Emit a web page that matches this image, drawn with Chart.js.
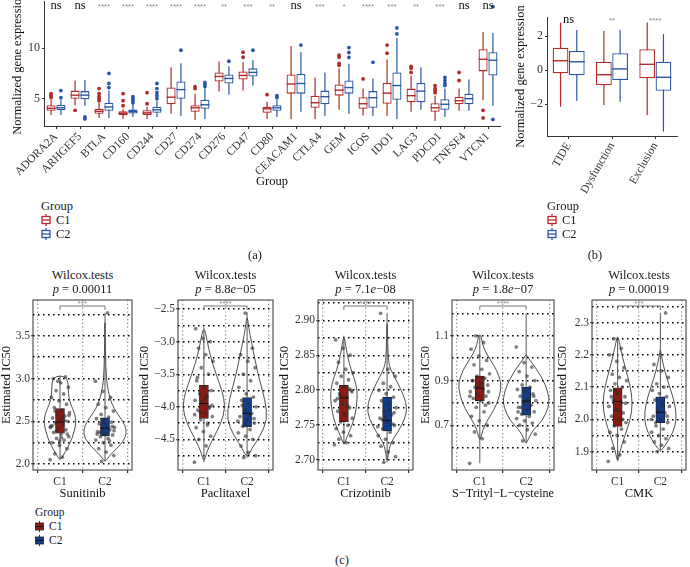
<!DOCTYPE html>
<html>
<head>
<meta charset="utf-8">
<script src="https://cdn.jsdelivr.net/npm/chart.js@4.4.0/dist/chart.umd.min.js"></script>
<style>
  body { margin: 0; width: 690px; height: 567px; position: relative; overflow: hidden; background: #fff;
         font-family: "Liberation Serif", "DejaVu Serif", serif; color: #1a1a1a; }
  canvas { position: absolute; }
  .t { position: absolute; white-space: nowrap; font-size: 12.5px; line-height: 14px; }
  .c { transform: translate(-50%, -50%); }
  .lg { position: absolute; font-size: 12.5px; line-height: 14px; }
  .row { display: flex; align-items: center; height: 14px; }
  .row svg { margin-right: 5px; }
</style>
</head>
<body>
<canvas id="chartA" width="505" height="200" style="left:0;top:-8px"></canvas>
<canvas id="chartB" width="180" height="192" style="left:510px;top:5px"></canvas>
<div id="drugs"></div>

<div class="t c" style="left:255px;top:255px">(a)</div>
<div class="t c" style="left:595px;top:255px">(b)</div>
<div class="t c" style="left:342px;top:560px">(c)</div>

<div id="legendA" class="lg" style="left:41px;top:199px"></div>
<div id="legendB" class="lg" style="left:547px;top:199px"></div>
<div id="legendC" class="lg" style="left:35px;top:506px;font-size:11.5px;line-height:13px"></div>

<script>
const SERIF = '"Liberation Serif", "DejaVu Serif", serif';
const SANS = '"Liberation Sans", "DejaVu Sans", sans-serif';
const C1_COL = '#b22a2a';
const C2_COL = '#2b56a6';
const C1_FILL = '#8b1b12';
const C2_FILL = '#123c8c';
const groupNames = ['C1', 'C2'];

// ---------- panel (a): immune checkpoint genes ----------
const genes = ['ADORA2A', 'ARHGEF5', 'BTLA', 'CD160', 'CD244', 'CD27', 'CD274', 'CD276', 'CD47', 'CD80',
  'CEACAM1', 'CTLA4', 'GEM', 'ICOS', 'IDO1', 'LAG3', 'PDCD1', 'TNFSF4', 'VTCN1'];
const geneSig = ['ns', 'ns', '****', '****', '****', '****', '****', '**', '***', '**',
  'ns', '***', '*', '****', '***', '**', '***', 'ns', 'ns'];
const c1Min = [3.4, 4.35, 3.1, 3.0, 3.0, 3.5, 2.9, 5.7, 5.8, 3.0, 3.0, 3.0, 3.9, 3.35, 3.3, 3.7, 2.8, 3.8, 4.85];
const c1Q1 = [3.8, 5.0, 3.5, 3.36, 3.4, 4.45, 3.7, 6.7, 6.9, 3.6, 5.5, 4.1, 5.3, 4.0, 4.5, 4.65, 3.7, 4.45, 7.7];
const c1Med = [4.05, 5.35, 3.75, 3.55, 3.6, 5.15, 4.1, 7.2, 7.3, 4.0, 6.45, 4.6, 5.85, 4.5, 5.55, 5.3, 4.1, 4.8, 8.9];
const c1Q3 = [4.35, 5.8, 4.0, 3.75, 3.85, 6.1, 4.35, 7.6, 7.7, 4.2, 7.4, 5.3, 6.4, 5.15, 6.55, 6.0, 4.55, 5.2, 9.9];
const c1Max = [4.9, 6.8, 4.6, 4.0, 4.2, 8.1, 5.5, 8.7, 8.6, 4.7, 10.2, 7.1, 8.0, 6.0, 8.9, 7.3, 5.3, 6.0, 11.6];
const c1Out = [[5.1, 5.3, 5.5], [3.85], [4.8, 5.0, 5.2, 5.5, 6.0], [4.3, 4.8, 5.5], [4.5, 5.6], [], [6.0, 6.2], [],
  [9.1, 9.6], [5.4], [], [], [8.3, 8.5, 9.1, 9.3], [6.95], [9.5, 10.3], [7.6, 8.0, 8.2], [5.6, 5.8, 6.0, 6.3],
  [6.8, 7.6], [3.85, 3.1]];
const c2Min = [3.4, 4.3, 3.1, 3.2, 3.2, 3.3, 3.0, 5.4, 6.3, 3.2, 3.7, 3.3, 3.5, 3.3, 3.0, 3.9, 3.2, 3.8, 4.3];
const c2Q1 = [3.85, 4.95, 3.8, 3.53, 3.6, 5.0, 4.0, 6.5, 7.2, 3.8, 5.5, 4.45, 5.5, 4.1, 4.9, 4.65, 3.9, 4.45, 7.3];
const c2Med = [4.1, 5.35, 4.18, 3.72, 3.9, 5.9, 4.4, 7.0, 7.6, 4.1, 6.5, 5.2, 6.1, 5.1, 6.3, 5.75, 4.45, 5.0, 8.8];
const c2Q3 = [4.4, 5.75, 4.6, 3.92, 4.2, 6.7, 4.9, 7.4, 8.0, 4.35, 7.45, 5.8, 6.8, 5.75, 7.6, 6.55, 4.95, 5.5, 9.6];
const c2Max = [4.9, 6.85, 5.8, 4.5, 4.8, 8.5, 6.0, 8.2, 8.8, 4.9, 9.6, 7.6, 8.45, 7.0, 11.0, 8.1, 6.0, 6.9, 11.5];
const c2Out = [[5.1, 5.8], [3.2, 3.0], [6.1, 6.5, 7.5], [4.6, 4.8, 5.0, 5.2], [5.0, 5.3, 5.6, 6.0, 6.5], [9.8],
  [6.2, 6.4, 6.6], [8.7], [9.8], [5.1, 5.3], [10.3], [], [9.08, 9.57, 10.05], [8.6], [11.4, 12.0], [],
  [6.3, 6.5, 6.8, 7.1], [], [2.95, 14.1]];

// ---------- panel (b): TIDE scores ----------
const scores = ['TIDE', 'Dysfunction', 'Exclusion'];
const scoreSig = ['ns', '**', '****'];
const bC1Min = [-2.14, -2.04, -2.63];
const bC1Q1 = [-0.18, -0.88, -0.47];
const bC1Med = [0.56, -0.26, 0.35];
const bC1Q3 = [1.33, 0.5, 1.24];
const bC1Max = [2.8, 2.31, 2.8];
const bC2Min = [-1.79, -1.85, -3.6];
const bC2Q1 = [-0.29, -0.57, -1.2];
const bC2Med = [0.5, 0.08, -0.41];
const bC2Q3 = [1.13, 1.0, 0.5];
const bC2Max = [2.37, 2.37, 2.12];

// ---------- panel (c): drug sensitivity ----------
const drugs = ['Sunitinib', 'Paclitaxel', 'Crizotinib', 'S\u2212Trityl\u2212L\u2212cysteine', 'CMK'];
const pValues = ['0.00011', '8.8<i>e</i>\u221205', '7.1<i>e</i>\u221208', '1.8<i>e</i>\u221207', '0.00019'];
const drugSig = ['***', '****', '****', '****', '***'];
const drugC1Min = [2.05, -4.85, 2.723, 0.53, 1.87];
const drugC1Q1 = [2.36, -4.18, 2.755, 0.81, 1.978];
const drugC1Med = [2.49, -3.95, 2.789, 0.866, 2.056];
const drugC1Q3 = [2.65, -3.67, 2.807, 0.92, 2.098];
const drugC1Max = [3.03, -2.78, 2.878, 1.1, 2.25];
const drugC2Min = [2.03, -4.78, 2.697, 0.62, 1.9];
const drugC2Q1 = [2.33, -4.31, 2.742, 0.745, 1.99];
const drugC2Med = [2.42, -4.1, 2.757, 0.808, 2.022];
const drugC2Q3 = [2.54, -3.86, 2.79, 0.87, 2.07];
const drugC2Max = [3.77, -2.55, 2.91, 1.2, 2.33];
const drugYMin = [1.93, -4.97, 2.686, 0.5, 1.843];
const drugYMax = [3.92, -2.36, 2.929, 1.26, 2.37];
const drugGridFrom = [2.0, -4.75, 2.7, 0.6, 1.9];
const drugGridStep = [0.25, 0.25, 0.025, 0.1, 0.05];
const drugLabelFrom = [2.0, -4.5, 2.7, 0.7, 1.9];
const drugLabelStep = [0.5, 0.5, 0.05, 0.2, 0.1];
const drugDecimals = [1, 1, 2, 1, 1];

// violin outlines: [value, half width in group units]
const drugViolinC1 = [
  [[2.04, 0], [2.1, 0.07], [2.2, 0.18], [2.3, 0.27], [2.45, 0.35], [2.55, 0.35], [2.65, 0.28], [2.75, 0.2], [2.9, 0.18], [3.0, 0.17], [3.04, 0]],
  [[-4.86, 0], [-4.7, 0.06], [-4.5, 0.2], [-4.25, 0.4], [-4.0, 0.5], [-3.75, 0.42], [-3.5, 0.28], [-3.2, 0.14], [-3.0, 0.08], [-2.75, 0]],
  [[2.721, 0], [2.73, 0.05], [2.74, 0.12], [2.76, 0.25], [2.79, 0.32], [2.81, 0.28], [2.83, 0.16], [2.85, 0.08], [2.865, 0.04], [2.878, 0]],
  [[0.63, 0], [0.66, 0.04], [0.7, 0.1], [0.75, 0.25], [0.8, 0.38], [0.87, 0.47], [0.92, 0.42], [0.97, 0.3], [1.02, 0.14], [1.06, 0.06], [1.1, 0.03], [1.105, 0]],
  [[1.865, 0], [1.9, 0.05], [1.95, 0.17], [2.0, 0.3], [2.05, 0.35], [2.1, 0.3], [2.15, 0.2], [2.2, 0.1], [2.24, 0.04], [2.26, 0]]
];
const drugViolinC2 = [
  [[2.02, 0], [2.1, 0.1], [2.2, 0.3], [2.3, 0.45], [2.4, 0.48], [2.5, 0.4], [2.6, 0.26], [2.7, 0.15], [2.85, 0.07], [3.0, 0.03], [3.3, 0.01], [3.77, 0]],
  [[-4.79, 0], [-4.65, 0.1], [-4.45, 0.3], [-4.2, 0.47], [-3.9, 0.42], [-3.5, 0.25], [-3.0, 0.1], [-2.8, 0.04], [-2.58, 0]],
  [[2.697, 0], [2.71, 0.03], [2.725, 0.08], [2.74, 0.25], [2.76, 0.42], [2.775, 0.46], [2.79, 0.4], [2.81, 0.25], [2.825, 0.12], [2.835, 0.05], [2.85, 0.02], [2.91, 0]],
  [[0.615, 0], [0.64, 0.05], [0.68, 0.15], [0.72, 0.35], [0.78, 0.48], [0.82, 0.5], [0.88, 0.42], [0.94, 0.26], [0.98, 0.12], [1.0, 0.05], [1.02, 0]],
  [[1.9, 0], [1.92, 0.12], [1.96, 0.3], [2.0, 0.38], [2.05, 0.34], [2.1, 0.22], [2.15, 0.1], [2.2, 0.02], [2.22, 0]]
];

// jittered sample values
const drugPtsC1 = [
  [2.05, 2.08, 2.12, 2.18, 2.22, 2.25, 2.28, 2.3, 2.32, 2.35, 2.37, 2.4, 2.42, 2.44, 2.46, 2.48, 2.5, 2.52, 2.54, 2.56, 2.58, 2.6, 2.63, 2.66, 2.7, 2.74, 2.78, 2.82, 2.86, 2.9, 2.95, 3.0, 3.02, 2.97, 2.43, 2.55, 2.62, 2.35, 2.27, 2.45, 2.51, 2.39, 2.57, 2.31],
  [-4.85, -4.6, -4.5, -4.45, -4.38, -4.32, -4.25, -4.2, -4.15, -4.1, -4.05, -4.0, -3.95, -3.9, -3.85, -3.8, -3.75, -3.7, -3.6, -3.5, -3.4, -3.3, -3.2, -3.1, -3.0, -2.95, -2.8, -4.28, -4.08, -3.98, -3.88, -3.55, -4.02, -3.92, -4.12, -3.82],
  [2.722, 2.725, 2.73, 2.735, 2.74, 2.745, 2.75, 2.755, 2.76, 2.765, 2.77, 2.775, 2.78, 2.785, 2.79, 2.795, 2.8, 2.805, 2.81, 2.815, 2.82, 2.825, 2.83, 2.84, 2.85, 2.86, 2.872, 2.778, 2.792, 2.798, 2.768, 2.788, 2.802, 2.782],
  [0.53, 0.64, 0.67, 0.7, 0.72, 0.74, 0.76, 0.78, 0.8, 0.81, 0.82, 0.83, 0.84, 0.85, 0.86, 0.87, 0.88, 0.89, 0.9, 0.91, 0.92, 0.93, 0.95, 0.97, 0.99, 1.01, 1.04, 1.07, 1.1, 0.85, 0.88, 0.9, 0.79, 0.87, 0.83, 0.91],
  [1.87, 1.89, 1.91, 1.93, 1.95, 1.96, 1.97, 1.98, 1.99, 2.0, 2.01, 2.02, 2.03, 2.04, 2.05, 2.06, 2.07, 2.08, 2.09, 2.1, 2.11, 2.12, 2.13, 2.14, 2.16, 2.18, 2.2, 2.22, 2.25, 2.05, 2.03, 2.07, 2.0, 2.09]
];
const drugPtsC2 = [
  [2.03, 2.1, 2.14, 2.18, 2.22, 2.25, 2.28, 2.3, 2.32, 2.34, 2.36, 2.38, 2.4, 2.42, 2.43, 2.45, 2.47, 2.49, 2.51, 2.53, 2.55, 2.58, 2.62, 2.66, 2.7, 2.78, 2.85, 2.97, 3.77, 2.37, 2.44, 2.48, 2.35, 2.27, 2.41, 2.39],
  [-4.78, -4.75, -4.7, -4.6, -4.5, -4.45, -4.4, -4.35, -4.3, -4.25, -4.2, -4.15, -4.1, -4.05, -4.0, -3.95, -3.9, -3.85, -3.8, -3.7, -3.6, -3.5, -3.4, -3.3, -3.2, -3.1, -2.56, -4.22, -4.12, -3.98, -4.18, -4.28],
  [2.697, 2.705, 2.712, 2.72, 2.725, 2.73, 2.735, 2.74, 2.745, 2.75, 2.755, 2.76, 2.765, 2.77, 2.775, 2.78, 2.785, 2.79, 2.795, 2.8, 2.805, 2.81, 2.82, 2.83, 2.91, 2.752, 2.762, 2.748, 2.772, 2.758, 2.768],
  [0.63, 0.66, 0.68, 0.7, 0.71, 0.72, 0.73, 0.74, 0.75, 0.76, 0.77, 0.78, 0.79, 0.8, 0.81, 0.82, 0.83, 0.84, 0.85, 0.86, 0.87, 0.88, 0.9, 0.92, 0.94, 0.96, 0.98, 1.05, 0.8, 0.78, 0.83, 0.81, 0.76],
  [1.9, 1.91, 1.92, 1.93, 1.94, 1.95, 1.96, 1.97, 1.98, 1.99, 2.0, 2.01, 2.02, 2.03, 2.04, 2.05, 2.06, 2.07, 2.08, 2.09, 2.1, 2.11, 2.13, 2.15, 2.17, 2.33, 2.02, 2.0, 2.04, 1.99, 2.01]
];

// plot frame of each small panel: [left, right] in page px, and y axis width
const drugFrames = [[33, 132], [178, 273], [318, 413], [452, 554], [592, 686]];
const drugAxisW = [34, 41, 41, 34, 37];

const minus = s => String(s).replace(/-/g, '\u2212');
const jit = j => (((j * 0.6180339) % 1) - 0.5) * 0.44;

// whiskers, medians, outliers and significance marks for the box charts
function makeBoxPlugin(sets, sig, sigVal) {
  return {
    id: 'boxParts',
    beforeDatasetsDraw(chart) {
      const ctx = chart.ctx, y = chart.scales.y;
      sets.forEach((s, d) => {
        chart.getDatasetMeta(d).data.forEach((bar, i) => {
          ctx.save();
          ctx.strokeStyle = s.color;
          ctx.lineWidth = 1.2;
          ctx.beginPath();
          ctx.moveTo(bar.x, y.getPixelForValue(s.min[i]));
          ctx.lineTo(bar.x, y.getPixelForValue(s.max[i]));
          ctx.stroke();
          ctx.restore();
        });
      });
    },
    afterDatasetsDraw(chart) {
      const ctx = chart.ctx, x = chart.scales.x, y = chart.scales.y;
      sets.forEach((s, d) => {
        chart.getDatasetMeta(d).data.forEach((bar, i) => {
          const half = bar.width / 2;
          const ym = y.getPixelForValue(s.med[i]);
          ctx.save();
          ctx.strokeStyle = s.color;
          ctx.lineWidth = 1.4;
          ctx.beginPath();
          ctx.moveTo(bar.x - half, ym);
          ctx.lineTo(bar.x + half, ym);
          ctx.stroke();
          ctx.fillStyle = s.color;
          s.out[i].forEach(v => {
            ctx.beginPath();
            ctx.arc(bar.x, y.getPixelForValue(v), 1.9, 0, Math.PI * 2);
            ctx.fill();
          });
          ctx.restore();
        });
      });
      ctx.save();
      ctx.textAlign = 'center';
      ctx.textBaseline = 'middle';
      sig.forEach((t, i) => {
        const px = x.getPixelForValue(i), py = y.getPixelForValue(sigVal);
        if (t === 'ns') {
          ctx.fillStyle = '#111';
          ctx.font = '12.5px ' + SERIF;
          ctx.fillText(t, px, py);
        } else {
          ctx.fillStyle = '#8a8a8a';
          ctx.font = '8px ' + SANS;
          ctx.fillText(t, px, py + 1);
        }
      });
      ctx.restore();
    }
  };
}

function smoothClosed(ctx, pts) {
  const n = pts.length;
  const mid = (a, b) => [(a[0] + b[0]) / 2, (a[1] + b[1]) / 2];
  const m0 = mid(pts[n - 1], pts[0]);
  ctx.moveTo(m0[0], m0[1]);
  for (let i = 0; i < n; i++) {
    const p = pts[i], m = mid(p, pts[(i + 1) % n]);
    ctx.quadraticCurveTo(p[0], p[1], m[0], m[1]);
  }
  ctx.closePath();
}

// violins, whiskers, medians, bracket and frame for a drug panel
function makeDrugPlugin(k) {
  const stats = [
    {min: drugC1Min[k], q1: drugC1Q1[k], med: drugC1Med[k], q3: drugC1Q3[k], max: drugC1Max[k], violin: drugViolinC1[k]},
    {min: drugC2Min[k], q1: drugC2Q1[k], med: drugC2Med[k], q3: drugC2Q3[k], max: drugC2Max[k], violin: drugViolinC2[k]}
  ];
  return {
    id: 'drugParts',
    beforeDatasetsDraw(chart) {
      const ctx = chart.ctx, x = chart.scales.x, y = chart.scales.y;
      const unit = x.getPixelForValue(2) - x.getPixelForValue(1);
      stats.forEach((s, g) => {
        const cx = x.getPixelForValue(g + 1);
        const right = s.violin.map(([v, w]) => [cx + w * unit, y.getPixelForValue(v)]);
        const left = s.violin.slice(1, -1).reverse().map(([v, w]) => [cx - w * unit, y.getPixelForValue(v)]);
        ctx.save();
        ctx.strokeStyle = '#222';
        ctx.lineWidth = 0.8;
        ctx.beginPath();
        smoothClosed(ctx, right.concat(left));
        ctx.stroke();
        ctx.strokeStyle = '#555';
        ctx.lineWidth = 1;
        ctx.beginPath();
        ctx.moveTo(cx, y.getPixelForValue(s.min));
        ctx.lineTo(cx, y.getPixelForValue(s.q1));
        ctx.moveTo(cx, y.getPixelForValue(s.q3));
        ctx.lineTo(cx, y.getPixelForValue(s.max));
        ctx.stroke();
        ctx.restore();
      });
    },
    afterDatasetsDraw(chart) {
      const ctx = chart.ctx, x = chart.scales.x, y = chart.scales.y, a = chart.chartArea;
      const bars = chart.getDatasetMeta(1).data;
      ctx.save();
      ctx.strokeStyle = '#111';
      ctx.lineWidth = 1;
      stats.forEach((s, g) => {
        const bar = bars[g], ym = y.getPixelForValue(s.med);
        ctx.beginPath();
        ctx.moveTo(bar.x - bar.width / 2, ym);
        ctx.lineTo(bar.x + bar.width / 2, ym);
        ctx.stroke();
      });
      // significance bracket
      const x1 = x.getPixelForValue(1), x2 = x.getPixelForValue(2), by = a.top + 6;
      ctx.strokeStyle = '#666';
      ctx.lineWidth = 0.9;
      ctx.beginPath();
      ctx.moveTo(x1, by + 4);
      ctx.lineTo(x1, by);
      ctx.lineTo(x2, by);
      ctx.lineTo(x2, by + 4);
      ctx.stroke();
      ctx.fillStyle = '#8a8a8a';
      ctx.font = '8px ' + SANS;
      ctx.textAlign = 'center';
      ctx.textBaseline = 'middle';
      ctx.fillText(drugSig[k], (x1 + x2) / 2, by - 2);
      // panel frame
      ctx.strokeStyle = '#333';
      ctx.lineWidth = 1;
      ctx.strokeRect(a.left, a.top, a.right - a.left, a.bottom - a.top);
      ctx.restore();
    }
  };
}

function boxScaleX(labels, rot, h, title) {
  return {
    grid: {display: true, drawOnChartArea: false, offset: false, tickLength: 3, color: '#333'},
    border: {display: true, color: '#333'},
    ticks: {color: '#333', font: {family: SERIF, size: 11.5}, minRotation: rot, maxRotation: rot, padding: 1, autoSkip: false},
    title: {display: !!title, text: title || '', color: '#111', font: {family: SERIF, size: 12.5}, padding: {top: 0, bottom: 3}},
    afterFit: s => { s.height = h; }
  };
}

// ---------- chart (a) ----------
new Chart(document.getElementById('chartA'), {
  type: 'bar',
  data: {
    labels: genes,
    datasets: [
      {label: 'C1', data: genes.map((g, i) => [c1Q1[i], c1Q3[i]]), backgroundColor: '#fff', borderColor: C1_COL,
        borderWidth: 1.3, borderSkipped: false, categoryPercentage: 0.82, barPercentage: 0.92},
      {label: 'C2', data: genes.map((g, i) => [c2Q1[i], c2Q3[i]]), backgroundColor: '#fff', borderColor: C2_COL,
        borderWidth: 1.3, borderSkipped: false, categoryPercentage: 0.82, barPercentage: 0.92}
    ]
  },
  options: {
    responsive: false, animation: false, events: [],
    layout: {padding: {top: 8, right: 5, left: 0, bottom: 0}},
    plugins: {legend: {display: false}, tooltip: {enabled: false}},
    scales: {
      x: boxScaleX(genes, 45, 66, 'Group'),
      y: {
        min: 2.3, max: 14.64,
        afterBuildTicks: s => { s.ticks = [5, 10].map(v => ({value: v})); },
        grid: {display: true, drawOnChartArea: false, tickLength: 2, color: '#333'},
        border: {display: true, color: '#333'},
        ticks: {color: '#333', font: {family: SERIF, size: 12}, padding: 2},
        title: {display: true, text: 'Normalized gene expression', color: '#111', font: {family: SERIF, size: 12.5}, padding: {top: 10, bottom: 0}},
        afterFit: s => { s.width = 44; }
      }
    }
  },
  plugins: [makeBoxPlugin([
    {color: C1_COL, min: c1Min, med: c1Med, max: c1Max, out: c1Out},
    {color: C2_COL, min: c2Min, med: c2Med, max: c2Max, out: c2Out}
  ], geneSig, 14.2)]
});

// ---------- chart (b) ----------
new Chart(document.getElementById('chartB'), {
  type: 'bar',
  data: {
    labels: scores,
    datasets: [
      {label: 'C1', data: scores.map((g, i) => [bC1Q1[i], bC1Q3[i]]), backgroundColor: '#fff', borderColor: C1_COL,
        borderWidth: 1.3, borderSkipped: false, categoryPercentage: 0.75, barPercentage: 0.97},
      {label: 'C2', data: scores.map((g, i) => [bC2Q1[i], bC2Q3[i]]), backgroundColor: '#fff', borderColor: C2_COL,
        borderWidth: 1.3, borderSkipped: false, categoryPercentage: 0.75, barPercentage: 0.97}
    ]
  },
  options: {
    responsive: false, animation: false, events: [],
    layout: {padding: {top: 12, right: 13, left: 0, bottom: 0}},
    plugins: {legend: {display: false}, tooltip: {enabled: false}},
    scales: {
      x: boxScaleX(scores, 60, 61, ''),
      y: {
        min: -3.86, max: 3.13,
        afterBuildTicks: s => { s.ticks = [-2, 0, 2].map(v => ({value: v})); },
        grid: {display: true, drawOnChartArea: false, tickLength: 2, color: '#333'},
        border: {display: true, color: '#333'},
        ticks: {color: '#333', font: {family: SERIF, size: 12}, padding: 2, callback: v => minus(v)},
        title: {display: true, text: 'Normalized gene expression', color: '#111', font: {family: SERIF, size: 12.5}, padding: {top: 3.5, bottom: 0}},
        afterFit: s => { s.width = 37; }
      }
    }
  },
  plugins: [makeBoxPlugin([
    {color: C1_COL, min: bC1Min, med: bC1Med, max: bC1Max, out: [[], [], []]},
    {color: C2_COL, min: bC2Min, med: bC2Med, max: bC2Max, out: [[], [], []]}
  ], scoreSig, 2.98)]
});

// ---------- charts (c) ----------
const holder = document.getElementById('drugs');
drugs.forEach((name, k) => {
  const [fl, fr] = drugFrames[k];
  const aw = drugAxisW[k];
  const cv = document.createElement('canvas');
  cv.width = aw + (fr - fl) + 4;
  cv.height = 210;
  cv.style.left = (fl - aw) + 'px';
  cv.style.top = '292px';
  holder.appendChild(cv);

  const t1 = document.createElement('div');
  t1.className = 't c';
  t1.style.left = ((fl + fr) / 2) + 'px';
  t1.style.top = '275px';
  t1.textContent = 'Wilcox.tests';
  holder.appendChild(t1);
  const t2 = document.createElement('div');
  t2.className = 't c';
  t2.style.left = ((fl + fr) / 2) + 'px';
  t2.style.top = '289px';
  t2.innerHTML = '<i>p</i> = ' + pValues[k];
  holder.appendChild(t2);

  const gridTicks = [];
  for (let v = drugGridFrom[k]; v < drugYMax[k] - 1e-9; v += drugGridStep[k]) gridTicks.push(+v.toFixed(4));
  const isMajor = v => {
    const r = (v - drugLabelFrom[k]) / drugLabelStep[k];
    return Math.abs(r - Math.round(r)) < 1e-6;
  };

  new Chart(cv, {
    type: 'bar',
    data: {
      datasets: [
        {type: 'scatter', order: 0,
          data: drugPtsC1[k].map((v, j) => ({x: 1 + jit(j), y: v}))
            .concat(drugPtsC2[k].map((v, j) => ({x: 2 + jit(j + 7), y: v}))),
          pointRadius: 1.9, backgroundColor: 'rgba(45,45,45,0.6)', borderWidth: 0},
        {type: 'bar', order: 1,
          data: [{x: 1, y: [drugC1Q1[k], drugC1Q3[k]]}, {x: 2, y: [drugC2Q1[k], drugC2Q3[k]]}],
          backgroundColor: [C1_FILL, C2_FILL], borderColor: '#222', borderWidth: 0.8,
          borderSkipped: false, barThickness: 9}
      ]
    },
    options: {
      responsive: false, animation: false, events: [],
      layout: {padding: {top: 8, right: 4, left: 0, bottom: 0}},
      plugins: {legend: {display: false}, tooltip: {enabled: false}},
      scales: {
        x: {
          type: 'linear', min: 0.4, max: 2.6, offset: false,
          afterBuildTicks: s => { s.ticks = [{value: 1}, {value: 2}]; },
          grid: {color: '#8c8c8c', lineWidth: 1.2, tickColor: '#333', tickLength: 3, tickBorderDash: []},
          border: {display: false, dash: [1.2, 2.6]},
          ticks: {color: '#333', font: {family: SERIF, size: 11.5}, padding: 2, callback: v => groupNames[v - 1]},
          title: {display: true, text: name, color: '#111', font: {family: SERIF, size: 12.5}, padding: {top: 0, bottom: 1}},
          afterFit: s => { s.height = 32; }
        },
        y: {
          min: drugYMin[k], max: drugYMax[k],
          afterBuildTicks: s => { s.ticks = gridTicks.map(v => ({value: v})); },
          grid: {color: '#000', lineWidth: 1.5, tickLength: 2, tickWidth: 1, tickBorderDash: [],
            tickColor: c => isMajor(c.tick.value) ? '#333' : 'rgba(0,0,0,0)'},
          border: {display: false, dash: [1.5, 3.5]},
          ticks: {color: '#333', font: {family: SERIF, size: 11.5}, padding: 1, autoSkip: false,
            callback: v => isMajor(v) ? minus(v.toFixed(drugDecimals[k])) : ''},
          title: {display: true, text: 'Estimated IC50', color: '#111', font: {family: SERIF, size: 12.5}, padding: {top: 0, bottom: 0}},
          afterFit: s => { s.width = aw; }
        }
      }
    },
    plugins: [makeDrugPlugin(k)]
  });
});

// ---------- legends ----------
function outlineIcon(col) {
  return '<svg width="10" height="12"><line x1="5" y1="0" x2="5" y2="12" stroke="' + col + '" stroke-width="1.3"/>' +
    '<rect x="1" y="2.5" width="8" height="7" fill="#fff" stroke="' + col + '" stroke-width="1.3"/>' +
    '<line x1="1" y1="6" x2="9" y2="6" stroke="' + col + '" stroke-width="1.3"/></svg>';
}
function filledIcon(col) {
  return '<svg width="9" height="11"><line x1="4.5" y1="0" x2="4.5" y2="11" stroke="#333" stroke-width="1"/>' +
    '<rect x="0.5" y="2" width="8" height="7" fill="' + col + '" stroke="#222" stroke-width="0.8"/>' +
    '<line x1="0.5" y1="5.5" x2="8.5" y2="5.5" stroke="#111" stroke-width="1"/></svg>';
}
function legendHtml(icon, cols) {
  return '<div>Group</div>' + groupNames.map((g, i) =>
    '<div class="row">' + icon(cols[i]) + '<span>' + g + '</span></div>').join('');
}
document.getElementById('legendA').innerHTML = legendHtml(outlineIcon, [C1_COL, C2_COL]);
document.getElementById('legendB').innerHTML = legendHtml(outlineIcon, [C1_COL, C2_COL]);
document.getElementById('legendC').innerHTML = legendHtml(filledIcon, [C1_FILL, C2_FILL]);
</script>
</body>
</html>
